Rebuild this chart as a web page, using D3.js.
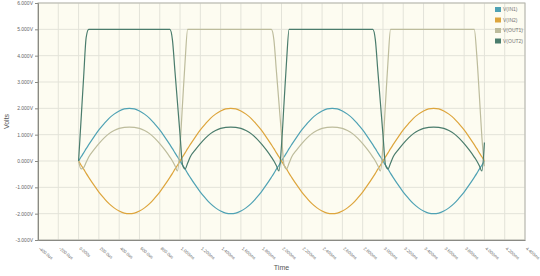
<!DOCTYPE html>
<html>
<head>
<meta charset="utf-8">
<script src="https://cdn.jsdelivr.net/npm/d3@7"></script>
<style>
body { margin: 0; background: #fff; }
svg { display: block; font-family: "Liberation Sans", Arial, sans-serif; }
</style>
</head>
<body>
<svg width="540" height="276"></svg>
<script>
// Sample times in microseconds
var timeUs = [0,25,50,75,100,150,200,250,300,350,400,450,500,550,600,650,700,750,800,850,900,925,950,975,1000,
	1025,1050,1075,1100,1150,1200,1250,1300,1350,1400,1450,1500,1550,1600,1650,1700,1750,1800,1850,1900,1925,1950,1975,2000,
	2025,2050,2075,2100,2150,2200,2250,2300,2350,2400,2450,2500,2550,2600,2650,2700,2750,2800,2850,2900,2925,2950,2975,3000,
	3025,3050,3075,3100,3150,3200,3250,3300,3350,3400,3450,3500,3550,3600,3650,3700,3750,3800,3850,3900,3925,3950,3975,4000]

var vIn1 = [0,0.16,0.31,0.47,0.62,0.91,1.18,1.41,1.62,1.78,1.90,1.98,2.00,1.98,1.90,1.78,1.62,1.41,1.18,0.91,0.62,0.47,0.31,0.16,0,
	-0.16,-0.31,-0.47,-0.62,-0.91,-1.18,-1.41,-1.62,-1.78,-1.90,-1.98,-2.00,-1.98,-1.90,-1.78,-1.62,-1.41,-1.18,-0.91,-0.62,-0.47,-0.31,-0.16,0,
	0.16,0.31,0.47,0.62,0.91,1.18,1.41,1.62,1.78,1.90,1.98,2.00,1.98,1.90,1.78,1.62,1.41,1.18,0.91,0.62,0.47,0.31,0.16,0,
	-0.16,-0.31,-0.47,-0.62,-0.91,-1.18,-1.41,-1.62,-1.78,-1.90,-1.98,-2.00,-1.98,-1.90,-1.78,-1.62,-1.41,-1.18,-0.91,-0.62,-0.47,-0.31,-0.16,0]

var vIn2 = [0,-0.16,-0.31,-0.47,-0.62,-0.91,-1.18,-1.41,-1.62,-1.78,-1.90,-1.98,-2.00,-1.98,-1.90,-1.78,-1.62,-1.41,-1.18,-0.91,-0.62,-0.47,-0.31,-0.16,0,
	0.16,0.31,0.47,0.62,0.91,1.18,1.41,1.62,1.78,1.90,1.98,2.00,1.98,1.90,1.78,1.62,1.41,1.18,0.91,0.62,0.47,0.31,0.16,0,
	-0.16,-0.31,-0.47,-0.62,-0.91,-1.18,-1.41,-1.62,-1.78,-1.90,-1.98,-2.00,-1.98,-1.90,-1.78,-1.62,-1.41,-1.18,-0.91,-0.62,-0.47,-0.31,-0.16,0,
	0.16,0.31,0.47,0.62,0.91,1.18,1.41,1.62,1.78,1.90,1.98,2.00,1.98,1.90,1.78,1.62,1.41,1.18,0.91,0.62,0.47,0.31,0.16,0]

var vOut1 = [0,-0.3,-0.25,-0.05,0.15,0.42,0.66,0.87,1.04,1.16,1.24,1.28,1.29,1.28,1.24,1.16,1.04,0.87,0.66,0.42,0.15,0,-0.18,-0.38,0.6,
	2.2,3.8,5,5,5,5,5,5,5,5,5,5,5,5,5,5,5,5,5,5,4.6,3.4,2.2,1.0,
	-0.15,-0.3,-0.08,0.15,0.42,0.66,0.87,1.04,1.16,1.24,1.28,1.29,1.28,1.24,1.16,1.04,0.87,0.66,0.42,0.15,0,-0.18,-0.38,0.6,
	2.2,3.8,5,5,5,5,5,5,5,5,5,5,5,5,5,5,5,5,5,5,4.0,2.5,0.9,-0.2]

var vOut2 = [0,1.6,3.2,4.7,5,5,5,5,5,5,5,5,5,5,5,5,5,5,5,5,5,4.6,3.4,2.2,1.0,
	-0.15,-0.3,-0.08,0.15,0.42,0.66,0.87,1.04,1.16,1.24,1.28,1.29,1.28,1.24,1.16,1.04,0.87,0.66,0.42,0.15,0,-0.18,-0.38,0.6,
	2.2,3.8,5,5,5,5,5,5,5,5,5,5,5,5,5,5,5,5,5,5,4.6,3.4,2.2,1.0,
	-0.15,-0.3,-0.08,0.15,0.42,0.66,0.87,1.04,1.16,1.24,1.28,1.29,1.28,1.24,1.16,1.04,0.87,0.66,0.42,0.15,0,-0.18,-0.38,0.7]

var seriesNames = ["V(IN1)", "V(IN2)", "V(OUT1)", "V(OUT2)"]
var seriesColors = ["#4fa2b4", "#dda53c", "#bdbc9c", "#4a7c6c"]

var yTicks = [6, 5, 4, 3, 2, 1, 0, -1, -2, -3]
var yTickLabels = ["6.000V", "5.000V", "4.000V", "3.000V", "2.000V", "1.000V", "0.000V", "-1.000V", "-2.000V", "-3.000V"]

var xTicks = [-400,-200,0,200,400,600,800,1000,1200,1400,1600,1800,2000,2200,2400,2600,2800,3000,3200,3400,3600,3800,4000,4200,4400]
var xTickLabels = ["-400.0us","-200.0us","0.000s","200.0us","400.0us","600.0us","800.0us","1.000ms","1.200ms","1.400ms",
	"1.600ms","1.800ms","2.000ms","2.200ms","2.400ms","2.600ms","2.800ms","3.000ms","3.200ms","3.400ms","3.600ms",
	"3.800ms","4.000ms","4.200ms","4.400ms"]

var svg = d3.select("svg"),
	plot = { left: 38, right: 525, top: 3, bottom: 240 }

var x = d3.scaleLinear().domain([-400, 4400]).range([plot.left, plot.right]),
	y = d3.scaleLinear().domain([-3, 6]).range([plot.bottom, plot.top])

// Cream plot background
svg.append("rect")
	.attr("x", plot.left).attr("y", plot.top)
	.attr("width", plot.right - plot.left).attr("height", plot.bottom - plot.top)
	.attr("fill", "#fdfcf1")

// Grid lines
svg.append("g")
	.selectAll("line")
	.data(xTicks)
	.enter().append("line")
		.attr("x1", function(d) { return x(d) }).attr("x2", function(d) { return x(d) })
		.attr("y1", plot.top).attr("y2", plot.bottom)
		.attr("stroke", "#e3e3d9").attr("stroke-width", 1)

svg.append("g")
	.selectAll("line")
	.data(yTicks)
	.enter().append("line")
		.attr("y1", function(d) { return y(d) }).attr("y2", function(d) { return y(d) })
		.attr("x1", plot.left).attr("x2", plot.right)
		.attr("stroke", "#e3e3d9").attr("stroke-width", 1)

// Border of the plot
svg.append("rect")
	.attr("x", plot.left).attr("y", plot.top)
	.attr("width", plot.right - plot.left).attr("height", plot.bottom - plot.top)
	.attr("fill", "none").attr("stroke", "#b5b5ad")

// Y axis
var yAxis = svg.append("g")
	.attr("transform", "translate(" + plot.left + ",0)")
	.call(d3.axisLeft(y).tickValues(yTicks).tickSize(3).tickPadding(2)
		.tickFormat(function(d, i) { return yTickLabels[i] }))
yAxis.select(".domain").attr("stroke", "#8a8a84")
yAxis.selectAll(".tick line").attr("stroke", "#8a8a84")
yAxis.selectAll("text").attr("fill", "#666").style("font-size", "5px")

// X axis with slanted labels
var xAxis = svg.append("g")
	.attr("transform", "translate(0," + plot.bottom + ")")
	.call(d3.axisBottom(x).tickValues(xTicks).tickSize(0)
		.tickFormat(function(d, i) { return xTickLabels[i] }))
xAxis.select(".domain").attr("stroke", "#8a8a84")
xAxis.selectAll("text")
	.attr("y", 0)
	.attr("x", 0)
	.attr("dy", 0)
	.attr("transform", "translate(0,9) rotate(40)")
	.style("text-anchor", "start")
	.attr("fill", "#666")
	.style("font-size", "4.3px")

// Axis titles
svg.append("text")
	.attr("transform", "translate(9," + ((plot.top + plot.bottom) / 2) + ") rotate(-90)")
	.attr("text-anchor", "middle")
	.attr("fill", "#555")
	.style("font-size", "7px")
	.text("Volts")

svg.append("text")
	.attr("x", (plot.left + plot.right) / 2)
	.attr("y", 270)
	.attr("text-anchor", "middle")
	.attr("fill", "#555")
	.style("font-size", "7px")
	.text("Time")

// The four traces
var traces = [vIn1, vIn2, vOut1, vOut2]
var line = d3.line()
	.x(function(d, i) { return x(timeUs[i]) })
	.y(function(d) { return y(d) })
	.curve(d3.curveMonotoneX)

svg.append("g")
	.selectAll("path")
	.data(traces)
	.enter().append("path")
		.attr("d", function(d) { return line(d) })
		.attr("fill", "none")
		.attr("stroke", function(d, i) { return seriesColors[i] })
		.attr("stroke-width", 1.2)

// Legend in the top right corner
var legend = svg.append("g")
	.selectAll("g")
	.data(seriesNames)
	.enter().append("g")
		.attr("transform", function(d, i) { return "translate(495," + (7 + i * 10.5) + ")" })

legend.append("rect")
	.attr("width", 6).attr("height", 5)
	.attr("fill", function(d, i) { return seriesColors[i] })

legend.append("text")
	.attr("x", 8).attr("y", 4)
	.attr("fill", "#777")
	.style("font-size", "5px")
	.text(function(d) { return d })
</script>
</body>
</html>
